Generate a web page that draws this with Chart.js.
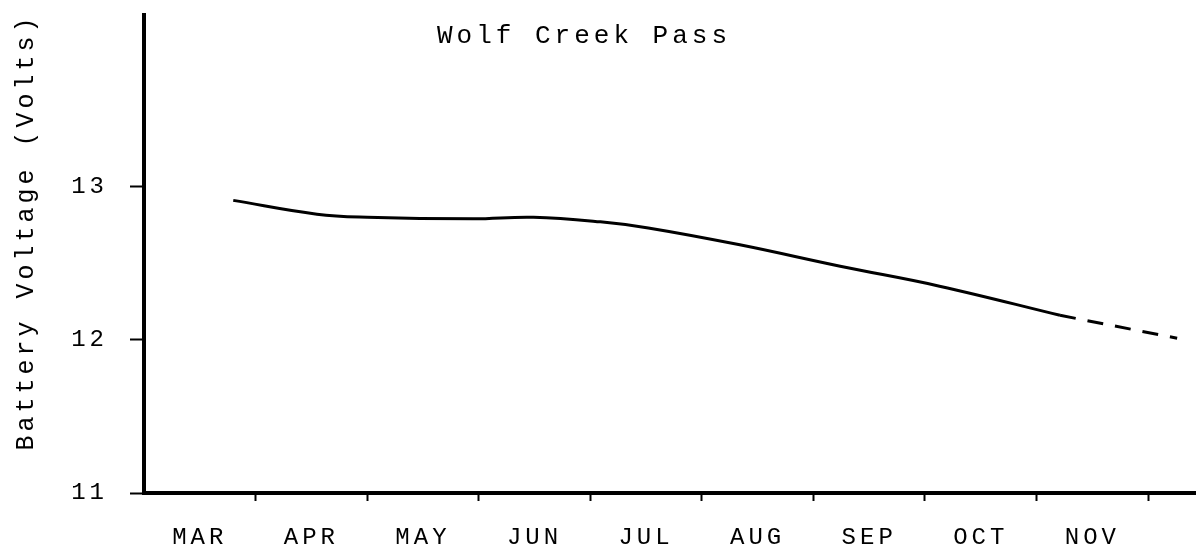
<!DOCTYPE html>
<html>
<head>
<meta charset="utf-8">
<script src="https://cdn.jsdelivr.net/npm/chart.js@4/dist/chart.umd.min.js"></script>
<style>
  html, body { margin: 0; padding: 0; background: #fff; }
  canvas { display: block; }
</style>
</head>
<body>
<canvas id="myChart" width="1197" height="556"></canvas>
<script>
// month labels, one per category slot (index 0 = MAR)
const months = ['MAR', 'APR', 'MAY', 'JUN', 'JUL', 'AUG', 'SEP', 'OCT', 'NOV'];
const yTicks = [11, 12, 13];

// measured curve, x in month index
const solidX = [0.30, 1.05, 1.50, 2.45, 2.99, 3.59, 4.02, 4.84, 5.74, 6.63, 7.71];
const solidY = [12.91, 12.82, 12.80, 12.79, 12.80, 12.77, 12.73, 12.62, 12.48, 12.35, 12.16];
// projected (dashed) part
const dashX = [7.71, 8.76];
const dashY = [12.16, 12.01];

const titleText = 'Wolf Creek Pass';
const yTitleText = 'Battery Voltage (Volts)';

const FONT = "'Liberation Mono', 'Courier New', monospace";
const SPACING = '4px';

function pts(xs, ys) {
    return xs.map((x, i) => ({ x: x, y: ys[i] }));
}

const typewriter = {
    id: 'typewriter',
    beforeLayout(chart) { chart.ctx.letterSpacing = SPACING; },
    beforeDraw(chart) { chart.ctx.letterSpacing = SPACING; },
    afterDraw(chart) {
        const ctx = chart.ctx;
        ctx.save();
        ctx.letterSpacing = SPACING;
        ctx.fillStyle = '#000';
        ctx.font = '26px ' + FONT;
        ctx.textAlign = 'center';
        ctx.textBaseline = 'middle';
        ctx.fillText(titleText, 584, 36);

        ctx.translate(26, 232);
        ctx.rotate(-Math.PI / 2);
        ctx.font = '25px ' + FONT;
        ctx.fillText(yTitleText, 0, 0);
        ctx.restore();
    }
};

new Chart(document.getElementById('myChart'), {
    type: 'line',
    data: {
        datasets: [
            {
                label: 'measured',
                data: pts(solidX, solidY),
                borderColor: '#000',
                borderWidth: 3,
                pointRadius: 0,
                tension: 0.4,
                fill: false
            },
            {
                label: 'projected',
                data: pts(dashX, dashY),
                borderColor: '#000',
                borderWidth: 3,
                borderDash: [16, 12],
                pointRadius: 0,
                tension: 0,
                fill: false
            }
        ]
    },
    options: {
        responsive: false,
        animation: false,
        layout: { padding: { top: 15, right: 2, left: 0, bottom: 0 } },
        plugins: {
            legend: { display: false },
            tooltip: { enabled: false },
            title: { display: false }
        },
        scales: {
            x: {
                type: 'linear',
                min: -0.5,
                max: 8.92,
                afterFit(s) { s.height = 63; s.paddingLeft = 0; s.paddingRight = 0; },
                afterBuildTicks(s) {
                    const t = [];
                    for (let v = -0.5; v <= 8.5; v += 0.5) t.push({ value: v });
                    s.ticks = t;
                },
                border: { display: true, color: '#000', width: 4 },
                grid: {
                    drawOnChartArea: false,
                    drawTicks: true,
                    tickLength: 8,
                    tickWidth: 2,
                    tickColor: (c) => (c.tick && (Number.isInteger(c.tick.value) || c.tick.value === -0.5)) ? 'rgba(0,0,0,0)' : '#000'
                },
                ticks: {
                    autoSkip: false,
                    maxRotation: 0,
                    padding: 22,
                    color: '#000',
                    font: { family: FONT, size: 24 },
                    callback: (v) => Number.isInteger(v) && months[v] !== undefined ? months[v] : ''
                }
            },
            y: {
                min: 11,
                max: 14.12,
                afterFit(s) { s.width = 144; s.paddingTop = 0; s.paddingBottom = 0; },
                afterBuildTicks(s) { s.ticks = yTicks.map(v => ({ value: v })); },
                border: { display: true, color: '#000', width: 4 },
                grid: {
                    drawOnChartArea: false,
                    drawTicks: true,
                    tickLength: 14,
                    tickWidth: 2,
                    tickColor: '#000'
                },
                ticks: {
                    padding: 22,
                    color: '#000',
                    font: { family: FONT, size: 24 }
                }
            }
        }
    },
    plugins: [typewriter]
});
</script>
</body>
</html>
